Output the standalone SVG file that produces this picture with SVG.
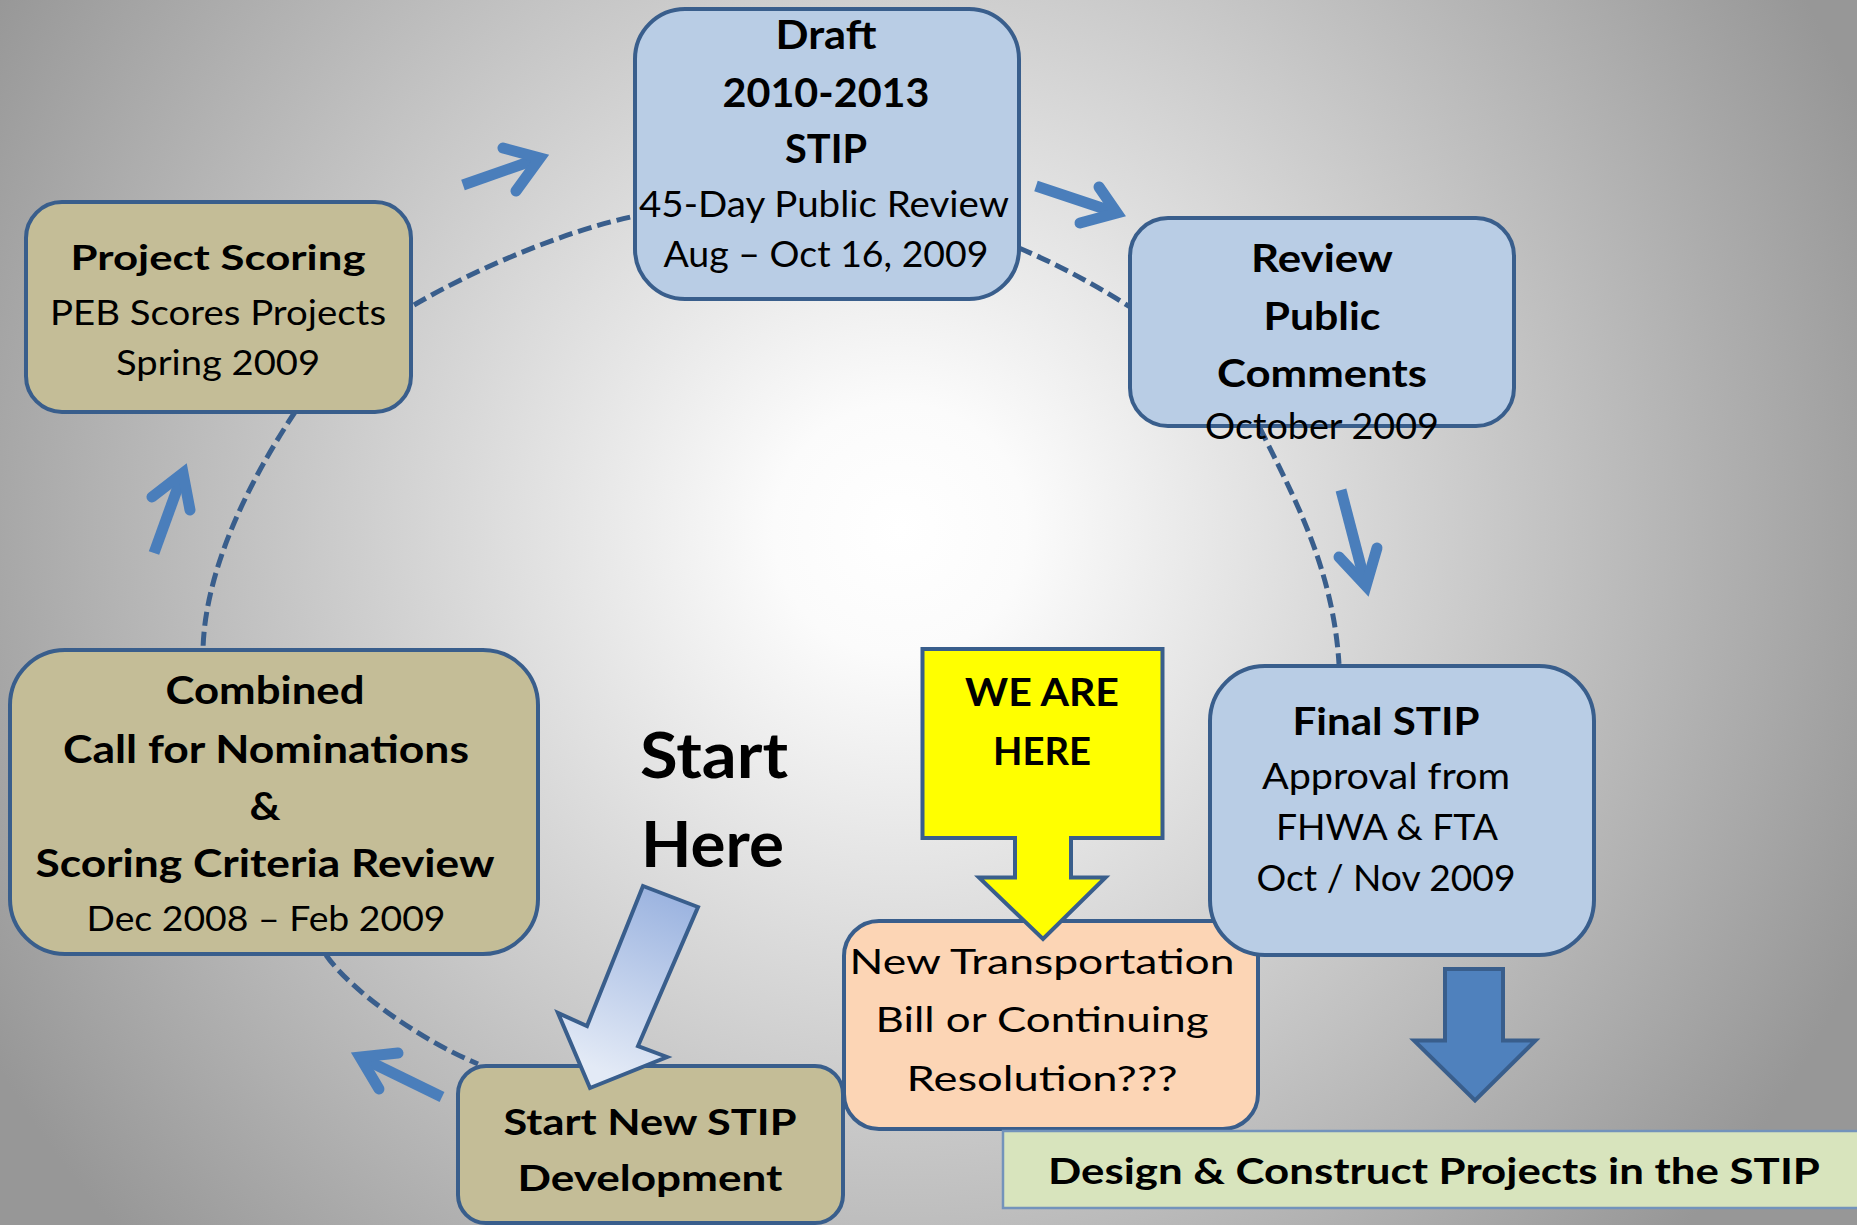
<svg xmlns="http://www.w3.org/2000/svg" width="1857" height="1225" viewBox="0 0 1857 1225">
<defs>
<radialGradient id="bg" gradientUnits="userSpaceOnUse" cx="900" cy="530" r="1050">
<stop offset="0" stop-color="#ffffff"/>
<stop offset="0.12" stop-color="#fbfbfb"/>
<stop offset="1" stop-color="#979797"/>
</radialGradient>
<linearGradient id="startGrad" gradientUnits="userSpaceOnUse" x1="670" y1="896" x2="600" y2="1070">
<stop offset="0" stop-color="#9cb4e0"/>
<stop offset="1" stop-color="#e3eaf6"/>
</linearGradient>
<style>
.box{stroke:#395e8c;stroke-width:4}
.tan{fill:#c4bd97}
.blue{fill:#b9cde5}
.peach{fill:#fcd5b5}
.dash{fill:none;stroke:#395e8c;stroke-width:5;stroke-dasharray:14 6}
.shaft{fill:none;stroke:#4a7ebb;stroke-width:11;stroke-linecap:butt}
.head{fill:none;stroke:#4a7ebb;stroke-width:11;stroke-linecap:round;stroke-linejoin:miter;stroke-miterlimit:10}
text{font-family:Lato,"Liberation Sans",sans-serif;fill:#000;text-anchor:middle}
.b{font-weight:bold}
</style>
</defs>
<rect x="0" y="0" width="1857" height="1225" fill="url(#bg)"/>

<g id="connectors">
<path class="dash" d="M414,305 C470,272 560,232 635,216"/>
<path class="dash" d="M1019,248 Q1075,272 1130,307"/>
<path class="dash" d="M1260,428 C1290,490 1333,565 1339,664"/>
<path class="dash" d="M295,412 C260,465 205,560 203,650"/>
<path class="dash" d="M326,955 C350,990 420,1040 478,1064"/>
<path class="shaft" d="M154,553 L183,473"/>
<path class="head" d="M152,497 L183,473 L190,510"/>
<path class="shaft" d="M463,185 L540,158"/>
<path class="head" d="M503,148 L540,158 L516,191"/>
<path class="shaft" d="M1036,186 L1117,213"/>
<path class="head" d="M1099,187 L1117,213 L1080,223"/>
<path class="shaft" d="M1341,490 L1366,586"/>
<path class="head" d="M1339,557 L1366,586 L1377,548"/>
<path class="shaft" d="M442,1097 L360,1057"/>
<path class="head" d="M398,1053 L360,1057 L379,1089"/>
</g>

<g id="project-scoring">
<rect class="box tan" x="26" y="202" width="385" height="210" rx="36"/>
<text class="b" x="218" y="270" font-size="35" textLength="295" lengthAdjust="spacingAndGlyphs">Project Scoring</text>
<text x="218" y="325" font-size="35" textLength="336" lengthAdjust="spacingAndGlyphs">PEB Scores Projects</text>
<text x="218" y="375" font-size="35" textLength="204" lengthAdjust="spacingAndGlyphs">Spring 2009</text>
</g>

<g id="draft">
<rect class="box blue" x="635" y="9" width="384" height="290" rx="50"/>
<text class="b" x="826" y="49" font-size="40" textLength="101" lengthAdjust="spacingAndGlyphs">Draft</text>
<text class="b" x="826" y="107" font-size="40" textLength="207" lengthAdjust="spacingAndGlyphs">2010-2013</text>
<text class="b" x="826" y="163" font-size="40" textLength="82" lengthAdjust="spacingAndGlyphs">STIP</text>
<text x="824" y="217" font-size="36" textLength="370" lengthAdjust="spacingAndGlyphs">45-Day Public Review</text>
<text x="826" y="267" font-size="36" textLength="325" lengthAdjust="spacingAndGlyphs">Aug – Oct 16, 2009</text>
</g>

<g id="review">
<rect class="box blue" x="1130" y="218" width="384" height="208" rx="38"/>
<text class="b" x="1322" y="272" font-size="39" textLength="142" lengthAdjust="spacingAndGlyphs">Review</text>
<text class="b" x="1322" y="330" font-size="39" textLength="117" lengthAdjust="spacingAndGlyphs">Public</text>
<text class="b" x="1322" y="387" font-size="39" textLength="210" lengthAdjust="spacingAndGlyphs">Comments</text>
<text x="1322" y="439" font-size="36" textLength="234" lengthAdjust="spacingAndGlyphs">October 2009</text>
</g>

<g id="combined">
<rect class="box tan" x="10" y="650" width="528" height="304" rx="55"/>
<text class="b" x="265" y="704" font-size="39" textLength="199" lengthAdjust="spacingAndGlyphs">Combined</text>
<text class="b" x="266" y="763" font-size="39" textLength="406" lengthAdjust="spacingAndGlyphs">Call for Nominations</text>
<text class="b" x="265" y="820" font-size="39" textLength="31" lengthAdjust="spacingAndGlyphs">&amp;</text>
<text class="b" x="265" y="877" font-size="39" textLength="459" lengthAdjust="spacingAndGlyphs">Scoring Criteria Review</text>
<text x="266" y="931" font-size="35" textLength="359" lengthAdjust="spacingAndGlyphs">Dec 2008 – Feb 2009</text>
</g>

<g id="start-here-label">
<text class="b" x="640" y="778" font-size="64" style="text-anchor:start" textLength="148" lengthAdjust="spacingAndGlyphs">Start</text>
<text class="b" x="641" y="867" font-size="64" style="text-anchor:start" textLength="143" lengthAdjust="spacingAndGlyphs">Here</text>
</g>

<g id="start-new-stip">
<rect class="box tan" x="458" y="1066" width="385" height="157" rx="28"/>
<text class="b" x="650" y="1135" font-size="37" textLength="293" lengthAdjust="spacingAndGlyphs">Start New STIP</text>
<text class="b" x="650" y="1191" font-size="37" textLength="265" lengthAdjust="spacingAndGlyphs">Development</text>
</g>

<g id="start-here-arrow">
<polygon points="643,886 698,907 638,1046 667,1057 590,1088 558,1013 587,1026" fill="url(#startGrad)" stroke="#395e8c" stroke-width="4" stroke-linejoin="miter"/>
</g>

<g id="new-transportation">
<rect class="box peach" x="844" y="921" width="414" height="208" rx="35"/>
<text x="1042" y="974" font-size="35" textLength="385" lengthAdjust="spacingAndGlyphs">New Transportation</text>
<text x="1042" y="1032" font-size="35" textLength="333" lengthAdjust="spacingAndGlyphs">Bill or Continuing</text>
<text x="1042" y="1091" font-size="35" textLength="271" lengthAdjust="spacingAndGlyphs">Resolution???</text>
</g>

<g id="we-are-here">
<polygon points="922.5,649 1162.5,649 1162.5,838 1071,838 1071,877.5 1105.5,877.5 1043,939 979,877.5 1015,877.5 1015,838 922.5,838" fill="#ffff00" stroke="#395e8c" stroke-width="4"/>
<text class="b" x="1042" y="706" font-size="39" textLength="154" lengthAdjust="spacingAndGlyphs">WE ARE</text>
<text class="b" x="1042" y="765" font-size="39" textLength="98" lengthAdjust="spacingAndGlyphs">HERE</text>
</g>

<g id="final-stip">
<rect class="box blue" x="1210" y="666" width="384" height="289" rx="55"/>
<text class="b" x="1386" y="735" font-size="38" textLength="187" lengthAdjust="spacingAndGlyphs">Final STIP</text>
<text x="1386" y="789" font-size="36" textLength="248" lengthAdjust="spacingAndGlyphs">Approval from</text>
<text x="1387" y="840" font-size="36" textLength="222" lengthAdjust="spacingAndGlyphs">FHWA &amp; FTA</text>
<text x="1386" y="891" font-size="36" textLength="259" lengthAdjust="spacingAndGlyphs">Oct / Nov 2009</text>
</g>

<g id="down-arrow">
<polygon points="1445,969 1503,969 1503,1040.5 1535.5,1040.5 1475,1100.5 1414,1040.5 1445,1040.5" fill="#4f81bd" stroke="#395e8c" stroke-width="4"/>
</g>

<g id="design-construct">
<rect x="1003" y="1131" width="870" height="77" fill="#d8e4bd" stroke="#7393bb" stroke-width="2.5"/>
<text class="b" x="1434" y="1184" font-size="37" textLength="772" lengthAdjust="spacingAndGlyphs">Design &amp; Construct Projects in the STIP</text>
</g>
</svg>
